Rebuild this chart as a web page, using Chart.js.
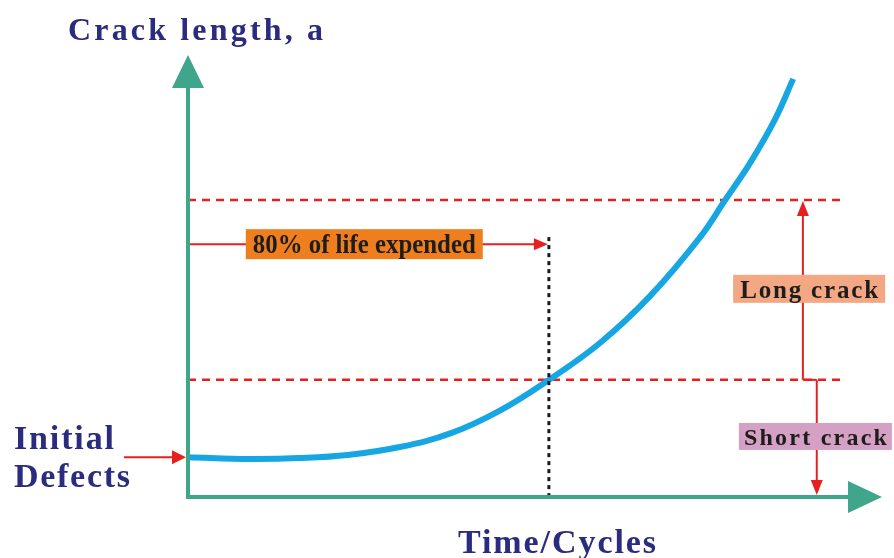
<!DOCTYPE html>
<html>
<head>
<meta charset="utf-8">
<script src="https://cdn.jsdelivr.net/npm/chart.js@4"></script>
<style>
  html, body { margin: 0; padding: 0; background: #ffffff; }
  #wrap { width: 894px; height: 558px; position: relative; }
</style>
</head>
<body>
<div id="wrap"><canvas id="crackChart"></canvas></div>
<script>
// schematic crack growth curve, units are arbitrary (0-100 on both axes)
const cycles = [0, 9, 16, 23, 30.5, 38, 45, 52, 59.4, 66.6, 73.8, 77.4, 81, 84.6, 87.2]
const crackLength = [9.0, 8.6, 8.8, 9.5, 11.3, 14.5, 19.6, 26.5, 34.9, 45.5, 58.8, 67.2, 75.6, 85.5, 94.6]

const initialDefect = 9.0
const shortCrackLevel = 26.5
const longCrackLevel = 67.2
const lifeExpended80 = 52.0

const axisLabels = ["Crack length, a", "Time/Cycles"]
const sideLabels = ["Initial", "Defects"]
const boxLabels = ["80% of life expended", "Long crack", "Short crack"]

const colors = {
  axis: "#3fa58b",
  curve: "#16a6e3",
  red: "#e5211f",
  navy: "#2b2b80",
  orange: "#ef7f1e",
  salmon: "#f3a782",
  mauve: "#d4a0c3",
}

const SERIF = '"Liberation Serif", "DejaVu Serif", serif'

// draw text squeezed/stretched to a given width
function drawFitted(ctx, text, x, y, width, font, color) {
  ctx.save()
  ctx.font = font
  ctx.fillStyle = color
  ctx.textBaseline = "alphabetic"
  ctx.textAlign = "left"
  const natural = ctx.measureText(text).width
  if (natural <= width) {
    const gap = text.length > 1 ? (width - natural) / (text.length - 1) : 0
    ctx.letterSpacing = gap + "px"
    ctx.fillText(text, x, y)
  } else {
    ctx.translate(x, y)
    ctx.scale(width / natural, 1)
    ctx.fillText(text, 0, 0)
  }
  ctx.restore()
}

function arrowHead(ctx, tipX, tipY, dir, len, half, color) {
  // dir: "up" | "down" | "left" | "right"
  ctx.save()
  ctx.fillStyle = color
  ctx.beginPath()
  ctx.moveTo(tipX, tipY)
  if (dir === "up") { ctx.lineTo(tipX - half, tipY + len); ctx.lineTo(tipX + half, tipY + len) }
  if (dir === "down") { ctx.lineTo(tipX - half, tipY - len); ctx.lineTo(tipX + half, tipY - len) }
  if (dir === "right") { ctx.lineTo(tipX - len, tipY - half); ctx.lineTo(tipX - len, tipY + half) }
  if (dir === "left") { ctx.lineTo(tipX + len, tipY - half); ctx.lineTo(tipX + len, tipY + half) }
  ctx.closePath()
  ctx.fill()
  ctx.restore()
}

function line(ctx, x1, y1, x2, y2, color, width, dash) {
  ctx.save()
  ctx.strokeStyle = color
  ctx.lineWidth = width
  ctx.setLineDash(dash || [])
  ctx.beginPath()
  ctx.moveTo(x1, y1)
  ctx.lineTo(x2, y2)
  ctx.stroke()
  ctx.restore()
}

function box(ctx, cx, cy, w, h, fill, text, textW, font, drop) {
  ctx.save()
  ctx.fillStyle = fill
  ctx.fillRect(cx - w / 2, cy - h / 2, w, h)
  ctx.restore()
  drawFitted(ctx, text, cx - textW / 2, cy + drop, textW, font, "#1d1d1d")
}

const schematicPlugin = {
  id: "schematic",
  beforeDatasetsDraw(chart) {
    const { ctx, scales: { x, y } } = chart
    const x0 = x.getPixelForValue(0)
    const xEnd = x.getPixelForValue(94.8)
    // threshold lines
    line(ctx, x0, y.getPixelForValue(longCrackLevel), xEnd, y.getPixelForValue(longCrackLevel), colors.red, 2.5, [8, 6])
    line(ctx, x0, y.getPixelForValue(shortCrackLevel), xEnd, y.getPixelForValue(shortCrackLevel), colors.red, 2.5, [8, 6])
  },
  afterDatasetsDraw(chart) {
    const { ctx, chartArea, scales: { x, y } } = chart
    const ox = x.getPixelForValue(0)
    const oy = y.getPixelForValue(0)

    // dotted 80% life marker
    const lifeX = x.getPixelForValue(lifeExpended80)
    line(ctx, lifeX, y.getPixelForValue(58.8), lifeX, oy, "#1a1a1a", 3, [4, 4])

    // axes with arrow heads
    line(ctx, ox, chartArea.top + 30, ox, oy + 2, colors.axis, 4)
    line(ctx, ox - 2, oy, chartArea.right - 32, oy, colors.axis, 4)
    arrowHead(ctx, ox, chartArea.top, "up", 33, 16, colors.axis)
    arrowHead(ctx, chartArea.right, oy, "right", 34, 16, colors.axis)

    // 80% of life expended
    const lifeY = y.getPixelForValue(57.2)
    const lifeBoxX = x.getPixelForValue(25.4)
    line(ctx, ox + 2, lifeY, lifeX - 12, lifeY, colors.red, 2)
    arrowHead(ctx, lifeX - 1, lifeY, "right", 14, 6, colors.red)
    box(ctx, lifeBoxX, lifeY, 237, 30, colors.orange, boxLabels[0], 223, "bold 27px " + SERIF, 9)

    // long crack span
    const longX = x.getPixelForValue(88.6)
    const shortX = x.getPixelForValue(90.6)
    const longY = y.getPixelForValue(longCrackLevel)
    const shortY = y.getPixelForValue(shortCrackLevel)
    line(ctx, longX, shortY, longX, longY + 12, colors.red, 2)
    line(ctx, longX, shortY, shortX, shortY, colors.red, 2)
    arrowHead(ctx, longX, longY + 1, "up", 15, 6, colors.red)
    box(ctx, x.getPixelForValue(89.5), y.getPixelForValue(47.1), 152, 28, colors.salmon, boxLabels[1], 138, "bold 25px " + SERIF, 9)

    // short crack span
    line(ctx, shortX, shortY, shortX, oy - 14, colors.red, 2)
    arrowHead(ctx, shortX, oy - 2, "down", 15, 6, colors.red)
    box(ctx, x.getPixelForValue(90.4), y.getPixelForValue(13.7), 153, 27, colors.mauve, boxLabels[2], 143, "bold 24px " + SERIF, 8.5)

    // initial defects
    const defY = y.getPixelForValue(initialDefect)
    line(ctx, ox - 64, defY, ox - 14, defY, colors.red, 2)
    arrowHead(ctx, ox - 2, defY, "right", 14, 7, colors.red)
    drawFitted(ctx, sideLabels[0], ox - 174, defY - 8, 100, "bold 34px " + SERIF, colors.navy)
    drawFitted(ctx, sideLabels[1], ox - 174, defY + 30, 116, "bold 34px " + SERIF, colors.navy)

    // axis titles
    drawFitted(ctx, axisLabels[0], ox - 120, chartArea.top - 15, 255, "bold 32px " + SERIF, colors.navy)
    drawFitted(ctx, axisLabels[1], ox + 270, oy + 56, 198, "bold 34px " + SERIF, colors.navy)
  },
}

const ctx = document.getElementById("crackChart")
new Chart(ctx, {
  type: "line",
  data: {
    datasets: [
      {
        label: "Crack length",
        data: cycles.map((c, i) => ({ x: c, y: crackLength[i] })),
        borderColor: colors.curve,
        borderWidth: 6,
        pointRadius: 0,
        tension: 0.4,
        fill: false,
      },
    ],
  },
  options: {
    responsive: true,
    maintainAspectRatio: false,
    animation: false,
    layout: { padding: { left: 188, right: 12, top: 55, bottom: 61 } },
    plugins: {
      legend: { display: false },
      tooltip: { enabled: false },
    },
    scales: {
      x: { type: "linear", min: 0, max: 100, display: false },
      y: { type: "linear", min: 0, max: 100, display: false },
    },
  },
  plugins: [schematicPlugin],
})
</script>
</body>
</html>
